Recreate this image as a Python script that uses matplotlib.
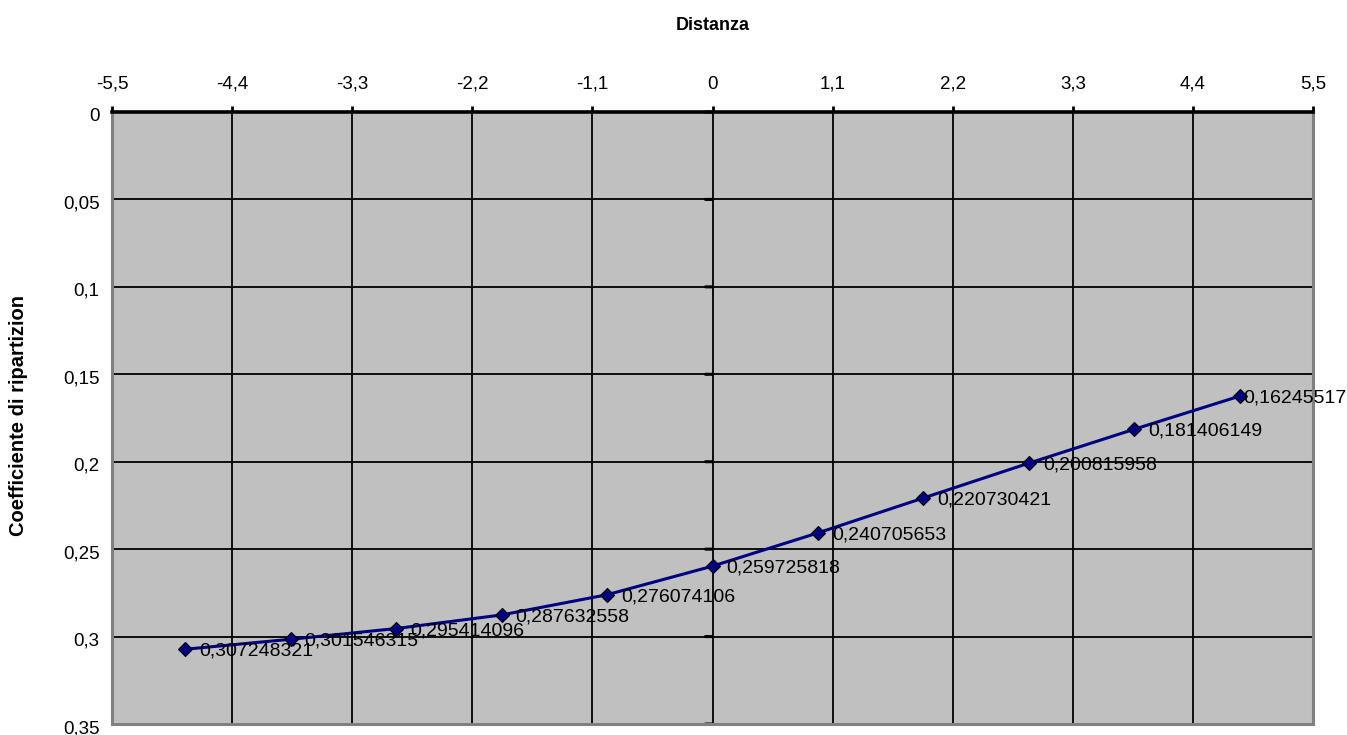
import matplotlib
matplotlib.use("Agg")
import matplotlib.pyplot as plt
from matplotlib.ticker import FuncFormatter, FixedLocator
from matplotlib import transforms

plt.rcParams['font.family'] = ['Liberation Sans', 'DejaVu Sans']

# distance of each section and its distribution coefficient
distanza = [-4.83, -3.864, -2.898, -1.932, -0.966, 0.0, 0.966, 1.932, 2.898, 3.864, 4.83]
coefficiente = [0.307248321, 0.301546315, 0.295414096, 0.287632558, 0.276074106,
                0.259725818, 0.240705653, 0.220730421, 0.200815958, 0.181406149,
                0.16245517]
etichette = ["0,307248321", "0,301546315", "0,295414096", "0,287632558", "0,276074106",
             "0,259725818", "0,240705653", "0,220730421", "0,200815958", "0,181406149",
             "0,16245517"]
x_ticks = [-5.5, -4.4, -3.3, -2.2, -1.1, 0.0, 1.1, 2.2, 3.3, 4.4, 5.5]
y_ticks = [0.0, 0.05, 0.1, 0.15, 0.2, 0.25, 0.3, 0.35]

W, H = 1347, 735
fig = plt.figure(figsize=(W / 100, H / 100), dpi=100)
ax = fig.add_axes([112 / W, 1 - 724 / H, (1313 - 112) / W, (724 - 112) / H])
ax.set_facecolor('#C0C0C0')

ax.set_xlim(-5.5, 5.5)
ax.set_ylim(0.35, 0.0)

# grid
for xv in x_ticks[1:-1]:
    ax.axvline(xv, color='#000000', lw=1.3, zorder=1)
for yv in y_ticks[1:-1]:
    ax.axhline(yv, color='#000000', lw=1.3, zorder=1)

# series
ax.plot(distanza, coefficiente, color='#000080', lw=2.2, zorder=3,
        marker='D', markersize=7.5, markerfacecolor='#000080',
        markeredgecolor='#000000', markeredgewidth=0.8)

# data labels
for i, (xv, yv, lab) in enumerate(zip(distanza, coefficiente, etichette)):
    dx = 14 if i < len(distanza) - 1 else 3
    off = transforms.offset_copy(ax.transData, fig=fig, x=dx, y=0, units='dots')
    ax.text(xv, yv, lab, transform=off, ha='left', va='center_baseline',
            fontsize=14, color='#000000', clip_on=False, zorder=4)

# top x axis
ax.xaxis.set_ticks_position('top')
ax.xaxis.set_label_position('top')
ax.xaxis.set_major_locator(FixedLocator(x_ticks))
ax.xaxis.set_major_formatter(FuncFormatter(
    lambda v, p: ('%g' % round(v, 2)).replace('.', ',') if abs(v) > 1e-9 else '0'))
ax.tick_params(axis='x', direction='out', length=4, width=2, color='#000000',
               labelsize=13.5, pad=10)

# y axis: labels at the left edge, tick marks drawn at x = 0
ax.yaxis.set_major_locator(FixedLocator(y_ticks))
ax.yaxis.set_major_formatter(FuncFormatter(
    lambda v, p: ('%g' % round(v, 3)).replace('.', ',')))
ax.tick_params(axis='y', direction='out', length=0, labelsize=13.5, pad=9)
shift = transforms.ScaledTranslation(0, -2.5 / 100, fig.dpi_scale_trans)
for lbl in ax.get_yticklabels():
    lbl.set_transform(lbl.get_transform() + shift)
for yv in y_ticks:
    ax.annotate('', xy=(0, yv), xycoords='data', xytext=(-7, 0),
                textcoords='offset pixels',
                arrowprops=dict(arrowstyle='-', color='#000000', lw=2.2,
                                shrinkA=0, shrinkB=0), zorder=2,
                annotation_clip=False)

for side in ['left', 'right', 'bottom']:
    ax.spines[side].set_color('#808080')
    ax.spines[side].set_linewidth(2.2)
ax.spines['top'].set_color('#000000')
ax.spines['top'].set_linewidth(2.6)
ax.spines['top'].set_zorder(5)

fig.text(713 / W, 1 - 26 / H, 'Distanza', ha='center', va='center',
         fontsize=13, fontweight='bold')
fig.text(19 / W, 1 - 416 / H, 'Coefficiente di ripartizion', ha='center', va='center',
         rotation=90, fontsize=14.5, fontweight='bold')

fig.savefig('out.png', dpi=100)
